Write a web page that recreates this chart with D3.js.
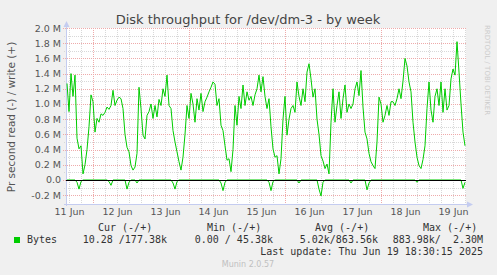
<!DOCTYPE html>
<html>
<head>
<meta charset="utf-8">
<script src="https://cdn.jsdelivr.net/npm/d3@7"></script>
<style>
  body { margin: 0; background: #f0f0f0; }
  svg { display: block; }
  text { font-family: "DejaVu Sans", sans-serif; }
  .mono { font-family: "DejaVu Sans Mono", monospace; white-space: pre; }
</style>
</head>
<body>
<svg id="chart"></svg>
<script>
// data: one value per hour, in M (10^6 bytes/s), starting at 11 Jun 11:00 UTC
var startTime = "2025-06-11T11:00:00Z"
var stepHours = 1

var writeValues = [
  1.27, 0.9, 1.4, 1.1, 1.38, 0.55, 0.41, 0.45, 0.08, 0.2, 0.4, 0.7, 1.12, 1.03, 0.63, 0.81, 0.76, 0.87, 0.85, 0.89, 0.96, 0.93, 0.98, 1.18,
  0.98, 1.05, 1.09, 1.07, 0.94, 0.6, 0.43, 0.37, 0.19, 0.13, 0.17, 0.35, 1.22, 0.94, 0.59, 0.54, 0.85, 0.9, 1.0, 0.81, 0.98, 0.83, 1.06, 0.98,
  1.2, 1.1, 1.38, 0.98, 0.94, 0.65, 0.5, 0.37, 0.24, 0.13, 0.3, 0.6, 0.98, 0.81, 1.14, 1.0, 0.76, 1.07, 0.92, 1.14, 0.9, 1.03, 1.09, 1.16,
  1.22, 1.29, 1.26, 0.98, 1.07, 0.72, 0.65, 0.45, 0.26, 0.28, 0.11, 0.4, 0.98, 0.72, 1.1, 0.94, 1.25, 0.98, 1.16, 1.05, 1.1, 0.98, 1.12, 1.2,
  1.38, 1.16, 1.36, 1.1, 0.94, 1.07, 0.7, 0.41, 0.3, 0.32, 0.08, 0.28, 0.8, 1.1, 0.59, 0.8, 0.94, 0.98, 0.89, 1.29, 1.1, 0.98, 1.2, 1.03,
  1.42, 1.53, 1.33, 1.09, 1.2, 0.8, 0.6, 0.32, 0.25, 0.15, 0.21, 0.08, 0.76, 1.2, 0.76, 0.98, 1.16, 0.81, 1.07, 1.25, 0.89, 1.0, 0.94, 1.0,
  1.2, 1.29, 1.11, 1.44, 0.96, 0.63, 0.54, 0.35, 0.24, 0.19, 0.15, 0.5, 1.09, 1.0, 0.76, 0.85, 0.98, 0.85, 1.03, 1.03, 0.98, 1.07, 1.2, 1.07,
  1.3, 1.6, 1.5, 1.29, 1.16, 0.76, 0.5, 0.3, 0.19, 0.15, 0.27, 0.45, 0.94, 1.29, 0.92, 0.76, 1.1, 1.2, 0.98, 1.29, 0.89, 1.2, 0.92, 0.98,
  1.33, 1.46, 1.38, 1.82, 1.42, 1.0, 0.63, 0.45
]

// read is drawn negative
var readValues = [
  0, 0, 0, 0, 0, -0.03, -0.12, -0.02, 0, 0, 0, 0, 0, 0, 0, 0, 0, 0, 0, 0, 0, -0.02, -0.07, 0,
  0, 0, 0, 0, 0, 0, -0.12, -0.03, 0, 0, 0, -0.04, 0, 0, 0, 0, 0, 0, 0, 0, 0, 0, 0, 0,
  0, 0, 0, 0, 0, -0.04, -0.12, -0.02, 0, 0, 0, 0, 0, 0, 0, 0, 0, 0, 0, 0, 0, 0, 0, 0,
  0, 0, 0, 0, 0, -0.04, -0.14, -0.03, 0, 0, 0, 0, 0, 0, 0, 0, 0, 0, 0, 0, 0, 0, 0, 0,
  0, 0, 0, 0, 0, -0.03, -0.14, -0.02, 0, 0, 0, 0, 0, 0, 0, 0, 0, 0, 0, 0, -0.04, 0, 0, 0,
  0, 0, 0, 0, 0, 0, -0.12, -0.21, -0.03, 0, 0, 0, 0, 0, 0, 0, 0, 0, 0, 0, 0, 0, -0.04, 0,
  0, 0, 0, 0, 0, 0, -0.13, -0.04, 0, 0, 0, 0, 0, 0, 0, 0, 0, 0, 0, 0, 0, 0, 0, 0,
  0, 0, 0, 0, 0, 0, 0, -0.03, 0, 0, 0, 0, 0, 0, 0, 0, 0, 0, 0, 0, 0, 0, 0, 0,
  0, 0, 0, 0, 0, 0, -0.11, -0.03
]

var yTicks = [-0.2, 0, 0.2, 0.4, 0.6, 0.8, 1.0, 1.2, 1.4, 1.6, 1.8, 2.0]
var dayLabels = ["11 Jun", "12 Jun", "13 Jun", "14 Jun", "15 Jun", "16 Jun", "17 Jun", "18 Jun", "19 Jun"]

var legendHeaders = ["Cur (-/+)", "Min (-/+)", "Avg (-/+)", "Max (-/+)"]
var legendValues = ["10.28 /177.38k", "0.00 / 45.38k", "5.02k/863.56k", "883.98k/  2.30M"]
var lastUpdate = "Last update: Thu Jun 19 18:30:15 2025"

var width = 497
var height = 275
var plotLeft = 66, plotRight = 466, plotTop = 28, plotBottom = 204

var x = d3.scaleUtc()
  .domain([new Date("2025-06-11T10:30:00Z"), new Date("2025-06-19T18:30:00Z")])
  .range([plotLeft, plotRight])

var y = d3.scaleLinear()
  .domain([-0.316, 2.0])
  .range([plotBottom, plotTop])

var t0 = new Date(startTime)
function timeAt(i) {
  return new Date(t0.getTime() + i * stepHours * 3600000)
}

var svg = d3.select("#chart")
  .attr("width", width)
  .attr("height", height)

svg.append("rect")
  .attr("width", width)
  .attr("height", height)
  .attr("fill", "#f0f0f0")

svg.append("rect")
  .attr("x", plotLeft)
  .attr("y", plotTop)
  .attr("width", plotRight - plotLeft)
  .attr("height", plotBottom - plotTop)
  .attr("fill", "#ffffff")

// grid
var grid = svg.append("g").attr("shape-rendering", "crispEdges")

var minorX = d3.utcHour.every(6).range(x.domain()[0], x.domain()[1])
grid.selectAll(".vminor")
  .data(minorX)
  .enter()
  .append("line")
  .attr("x1", function(d) { return Math.round(x(d)) + 0.5 })
  .attr("x2", function(d) { return Math.round(x(d)) + 0.5 })
  .attr("y1", plotTop)
  .attr("y2", plotBottom + 2)
  .attr("stroke", "#d8d8d8")
  .attr("stroke-dasharray", "1,1")

var minorY = d3.range(-1, 20, 2).map(function(d) { return d / 10 })
grid.selectAll(".hminor")
  .data(minorY)
  .enter()
  .append("line")
  .attr("x1", plotLeft - 2)
  .attr("x2", plotRight)
  .attr("y1", function(d) { return Math.round(y(d)) + 0.5 })
  .attr("y2", function(d) { return Math.round(y(d)) + 0.5 })
  .attr("stroke", "#d8d8d8")
  .attr("stroke-dasharray", "1,1")

var majorX = d3.utcDay.range(x.domain()[0], x.domain()[1])
  .filter(function(d) { return d.getUTCDate() % 2 === 0 })
grid.selectAll(".vmajor")
  .data(majorX)
  .enter()
  .append("line")
  .attr("x1", function(d) { return Math.round(x(d)) + 0.5 })
  .attr("x2", function(d) { return Math.round(x(d)) + 0.5 })
  .attr("y1", plotTop)
  .attr("y2", plotBottom + 2)
  .attr("stroke", "#eeaaaa")
  .attr("stroke-dasharray", "1,1")

grid.selectAll(".hmajor")
  .data(yTicks)
  .enter()
  .append("line")
  .attr("x1", plotLeft - 3)
  .attr("x2", plotRight)
  .attr("y1", function(d) { return Math.round(y(d)) + 0.5 })
  .attr("y2", function(d) { return Math.round(y(d)) + 0.5 })
  .attr("stroke", "#eeaaaa")
  .attr("stroke-dasharray", "1,1")

// axis lines and arrows
var axisColor = "#c4ccf0"
grid.append("line")
  .attr("x1", plotLeft + 0.5).attr("x2", plotLeft + 0.5)
  .attr("y1", plotTop - 2).attr("y2", plotBottom + 2)
  .attr("stroke", axisColor)
grid.append("line")
  .attr("x1", plotLeft - 2).attr("x2", plotRight + 4)
  .attr("y1", plotBottom + 0.5).attr("y2", plotBottom + 0.5)
  .attr("stroke", axisColor)
svg.append("path")
  .attr("d", "M" + (plotLeft - 2.5) + "," + (plotTop - 1) + "L" + (plotLeft + 0.5) + "," + (plotTop - 7) + "L" + (plotLeft + 3.5) + "," + (plotTop - 1) + "Z")
  .attr("fill", axisColor)
svg.append("path")
  .attr("d", "M" + (plotRight + 1) + "," + (plotBottom - 2.5) + "L" + (plotRight + 7) + "," + (plotBottom + 0.5) + "L" + (plotRight + 1) + "," + (plotBottom + 3.5) + "Z")
  .attr("fill", axisColor)

// y tick labels
svg.selectAll(".ylab")
  .data(yTicks)
  .enter()
  .append("text")
  .attr("x", 61)
  .attr("y", function(d) { return y(d) + 3.5 })
  .attr("text-anchor", "end")
  .attr("font-size", "9.5px")
  .attr("fill", "#555")
  .text(function(d) { return d === 0 ? "0.0" : d.toFixed(1) + " M" })

// x labels at noon
var noons = dayLabels.map(function(d, i) { return d3.utcHour.offset(d3.utcDay.floor(x.domain()[0]), 12 + i * 24) })
var xAxis = d3.axisBottom(x)
  .tickValues(noons)
  .tickSize(0)
  .tickPadding(0)
  .tickFormat(function(d, i) { return dayLabels[i] })

var xg = svg.append("g")
  .attr("transform", "translate(0," + (plotBottom + 4) + ")")
  .call(xAxis)
xg.select(".domain").remove()
xg.selectAll("text")
  .attr("font-family", "DejaVu Sans, sans-serif")
  .attr("font-size", "9.5px")
  .attr("fill", "#555")
  .attr("dy", "0.71em")

// series
var line = d3.line()
  .x(function(d, i) { return x(timeAt(i)) })
  .y(function(d) { return y(d) })

svg.append("path")
  .datum(readValues)
  .attr("d", line)
  .attr("fill", "none")
  .attr("stroke", "#00cc00")
  .attr("stroke-width", 1)

svg.append("path")
  .datum(writeValues)
  .attr("d", line)
  .attr("fill", "none")
  .attr("stroke", "#00cc00")
  .attr("stroke-width", 1)

svg.append("line")
  .attr("x1", plotLeft).attr("x2", plotRight)
  .attr("y1", Math.round(y(0)) + 0.5).attr("y2", Math.round(y(0)) + 0.5)
  .attr("stroke", "#000")
  .attr("stroke-width", 1)

// title
svg.append("text")
  .attr("x", 248)
  .attr("y", 24)
  .attr("text-anchor", "middle")
  .attr("font-size", "13px")
  .attr("fill", "#444")
  .text("Disk throughput for /dev/dm-3 - by week")

// y axis title
svg.append("text")
  .attr("transform", "translate(15,117) rotate(-90)")
  .attr("text-anchor", "middle")
  .attr("font-size", "10.5px")
  .attr("fill", "#555")
  .text("Pr second read (-) / write (+)")

// watermark
svg.append("text")
  .attr("transform", "translate(485,25) rotate(90)")
  .attr("font-size", "7px")
  .attr("fill", "#cccccc")
  .text("RRDTOOL / TOBI OETIKER")

// legend
var headerX = [98, 207, 315, 423]
var valueEnd = [167, 273, 378, 483]

svg.selectAll(".lhead")
  .data(legendHeaders)
  .enter()
  .append("text")
  .attr("class", "mono")
  .attr("x", function(d, i) { return headerX[i] })
  .attr("y", 231)
  .attr("font-size", "10px")
  .attr("fill", "#333")
  .text(function(d) { return d })

svg.append("rect")
  .attr("x", 14).attr("y", 237)
  .attr("width", 6).attr("height", 6)
  .attr("fill", "#00cc00")

svg.append("text")
  .attr("class", "mono")
  .attr("x", 27)
  .attr("y", 243)
  .attr("font-size", "10px")
  .attr("fill", "#333")
  .text("Bytes")

svg.selectAll(".lval")
  .data(legendValues)
  .enter()
  .append("text")
  .attr("class", "mono")
  .attr("x", function(d, i) { return valueEnd[i] })
  .attr("y", 243)
  .attr("text-anchor", "end")
  .attr("font-size", "10px")
  .attr("fill", "#333")
  .text(function(d) { return d })

svg.append("text")
  .attr("class", "mono")
  .attr("x", 483)
  .attr("y", 255)
  .attr("text-anchor", "end")
  .attr("font-size", "10px")
  .attr("fill", "#333")
  .text(lastUpdate)

svg.append("text")
  .attr("x", 248)
  .attr("y", 267)
  .attr("text-anchor", "middle")
  .attr("font-size", "8px")
  .attr("fill", "#c0c0c0")
  .text("Munin 2.0.57")
</script>
</body>
</html>
